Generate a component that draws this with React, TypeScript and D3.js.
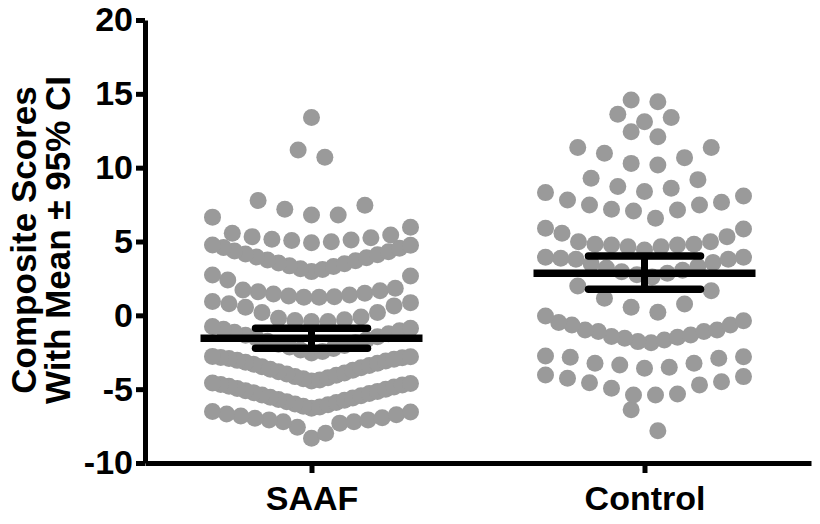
import React, { useEffect, useRef } from 'react';
import * as d3 from 'd3';

// groups on the x axis
const groups = ['SAAF', 'Control'];

// composite scores (listed row by row, bottom to top)
const saafScores = [
    -8.32, -7.98, -7.58, -7.3, -7.2, -7.2, -7.08, -7.08, -6.97, -6.93, -6.81, -6.74, -6.68, -6.55, -6.52,
    -6.29, -6.2, -6.15, -6.05, -6.0, -5.9, -5.85, -5.75, -5.7, -5.6, -5.55, -5.45, -5.4, -5.3, -5.25,
    -5.15, -5.1, -5.0, -4.95, -4.85, -4.8, -4.72, -4.68, -4.62, -4.58,
    -4.45, -4.38, -4.3, -4.22, -4.15, -4.05, -3.98, -3.9, -3.82, -3.72, -3.65, -3.55, -3.48, -3.4, -3.32,
    -3.25, -3.18, -3.1, -3.05, -2.98, -2.93, -2.88, -2.85, -2.8, -2.78,
    -2.55, -2.45, -2.35, -2.25, -2.15, -2.05, -1.95, -1.85, -1.75, -1.65, -1.55, -1.45, -1.35, -1.25,
    -1.15, -1.05, -0.95, -0.87, -0.76,
    -0.41, -0.41, -0.35, -0.3, -0.19, -0.12, 0.19, 0.19, 0.55, 0.64, 0.78, 0.86, 0.93,
    1.22, 1.22, 1.26, 1.31, 1.38, 1.45, 1.49, 1.6, 1.67, 1.72, 1.83, 2.4, 2.67, 2.73,
    2.96, 3.1, 3.15, 3.3, 3.35, 3.5, 3.55, 3.7, 3.75, 3.9, 3.95, 4.1, 4.15, 4.3, 4.35, 4.55, 4.6, 4.75, 4.77,
    4.92, 4.99, 5.06, 5.1, 5.15, 5.26, 5.33, 5.44, 5.56, 5.96, 6.65,
    6.8, 6.8, 7.18, 7.46, 7.77,
    10.7, 11.2, 13.4
];

const controlScores = [
    -7.81, -6.4,
    -5.39, -5.39, -5.32, -4.94, -4.71, -4.56, -4.49, -4.26, -4.15, -4.04,
    -3.58, -3.51, -3.36, -3.24, -3.24, -2.9, -2.84, -2.8, -2.75,
    -1.85, -1.78, -1.67, -1.55, -1.48, -1.44, -1.33, -1.1, -1.1, -0.99, -0.99, -0.65, -0.65, -0.49, -0.36, -0.04,
    0.21, 0.55, 0.77, 1.16, 1.67, 1.99,
    2.6, 2.75, 2.85, 2.95, 3.05, 3.2, 3.3, 3.5, 3.57, 3.8, 3.8, 3.86, 3.93, 3.93,
    4.43, 4.65, 4.65, 4.77, 4.77, 4.81, 4.81, 4.99, 4.99, 5.33, 5.56, 5.85, 5.9,
    6.57, 7.07, 7.14, 7.18, 7.47, 7.47, 7.66, 7.81, 8.08, 8.31,
    8.38, 8.6, 8.72, 9.19, 9.28,
    10.18, 10.29, 10.68, 10.97, 11.36, 11.36,
    12.1, 12.44, 13.11, 13.39, 13.62, 14.47, 14.58
];

// where one row of dots ends and the next begins (score units)
const saafRowBreaks = [-6.4, -4.52, -2.64, -0.6, 1.1, 2.85, 4.85, 6.75, 9.5, 12.5];
const controlRowBreaks = [-5.7, -3.7, -2.2, 0.1, 2.2, 4.2, 6.2, 8.35, 9.8, 11.8, 12.8, 14];

// mean and 95% CI per group
const groupMeans = [-1.55, 2.85];
const ciLower = [-2.23, 1.77];
const ciUpper = [-0.87, 4.02];

const yTicks = [-10, -5, 0, 5, 10, 15, 20];

const FONT = '"Liberation Sans", Arial, Helvetica, sans-serif';

// spread each row of dots sideways, smallest in the middle, alternating right/left
function swarm(values: number[], breaks: number[], cx: number) {
    const maxSpan = 198, maxStep = 26.7;
    const bins = d3.bin().domain([-10, 20]).thresholds(breaks)(values);
    const pts: { x: number, v: number }[] = [];
    bins.forEach(b => {
        const sorted = b.slice().sort(d3.ascending);
        const n = sorted.length;
        const step = n > 1 ? Math.min(maxStep, maxSpan / (n - 1)) : 0;
        sorted.forEach((v, i) => {
            let off;
            if (n % 2 === 1) {
                const k = Math.ceil(i / 2);
                off = i === 0 ? 0 : (i % 2 === 1 ? 1 : -1) * k * step;
            } else {
                const k = Math.floor(i / 2);
                off = (i % 2 === 0 ? 1 : -1) * (k + 0.5) * step;
            }
            pts.push({ x: cx + off, v });
        });
    });
    return pts;
}

function App() {
    const ref = useRef<SVGSVGElement>(null);

    useEffect(() => {
        const svg = d3.select(ref.current);
        svg.selectAll('*').remove();

        const y = d3.scaleLinear().domain([-10, 20]).range([463, 20]);
        const x = d3.scalePoint().domain(groups).range([145, 811]).padding(0.5);

        // dots
        const all = [
            ...swarm(saafScores, saafRowBreaks, x('SAAF')!),
            ...swarm(controlScores, controlRowBreaks, x('Control')!)
        ];
        svg.append('g')
            .selectAll('circle')
            .data(all)
            .enter().append('circle')
            .attr('cx', d => d.x)
            .attr('cy', d => y(d.v))
            .attr('r', 8.5)
            .attr('fill', '#9a9a9a');

        // mean +- CI
        const g = svg.append('g').attr('stroke', '#000');
        groups.forEach((grp, i) => {
            const cx = x(grp)!;
            g.append('line')
                .attr('x1', cx - 111).attr('x2', cx + 111)
                .attr('y1', y(groupMeans[i])).attr('y2', y(groupMeans[i]))
                .attr('stroke-width', 7.5);
            [ciLower[i], ciUpper[i]].forEach(v => {
                g.append('line')
                    .attr('x1', cx - 56).attr('x2', cx + 56)
                    .attr('y1', y(v)).attr('y2', y(v))
                    .attr('stroke-width', 7.5)
                    .attr('stroke-linecap', 'round');
            });
            g.append('line')
                .attr('x1', cx).attr('x2', cx)
                .attr('y1', y(ciUpper[i])).attr('y2', y(ciLower[i]))
                .attr('stroke-width', 7);
        });

        // y axis
        const yAxis = svg.append('g')
            .attr('transform', 'translate(145,0)')
            .call(d3.axisLeft(y).tickValues(yTicks).tickFormat(d => String(d))
                .tickSize(9).tickSizeOuter(0).tickPadding(3));
        yAxis.select('.domain').attr('stroke-width', 5);
        yAxis.selectAll('.tick line').attr('stroke-width', 5);
        yAxis.selectAll('text')
            .attr('font-family', FONT)
            .attr('font-weight', 'bold')
            .attr('font-size', 34)
            .attr('fill', '#000');

        // x axis
        const xAxis = svg.append('g')
            .attr('transform', 'translate(0,463)')
            .call(d3.axisBottom(x).tickSize(10).tickSizeOuter(0).tickPadding(13));
        xAxis.select('.domain').attr('stroke-width', 5);
        xAxis.selectAll('.tick line').attr('stroke-width', 5);
        xAxis.selectAll('text')
            .attr('font-family', FONT)
            .attr('font-weight', 'bold')
            .attr('font-size', 34)
            .attr('fill', '#000');

        // axis title, two lines
        const title = ['Composite Scores', 'With Mean \u00B1 95% CI'];
        title.forEach((t, i) => {
            svg.append('text')
                .attr('transform', `translate(${36 + i * 34},240) rotate(-90)`)
                .attr('text-anchor', 'middle')
                .attr('font-family', FONT)
                .attr('font-weight', 'bold')
                .attr('font-size', 35)
                .text(t);
        });
    }, []);

    return (
        <svg ref={ref} width="820" height="524"
            style={{ position: 'absolute', left: 0, top: 0, background: '#fff' }} />
    );
}

export default App;
